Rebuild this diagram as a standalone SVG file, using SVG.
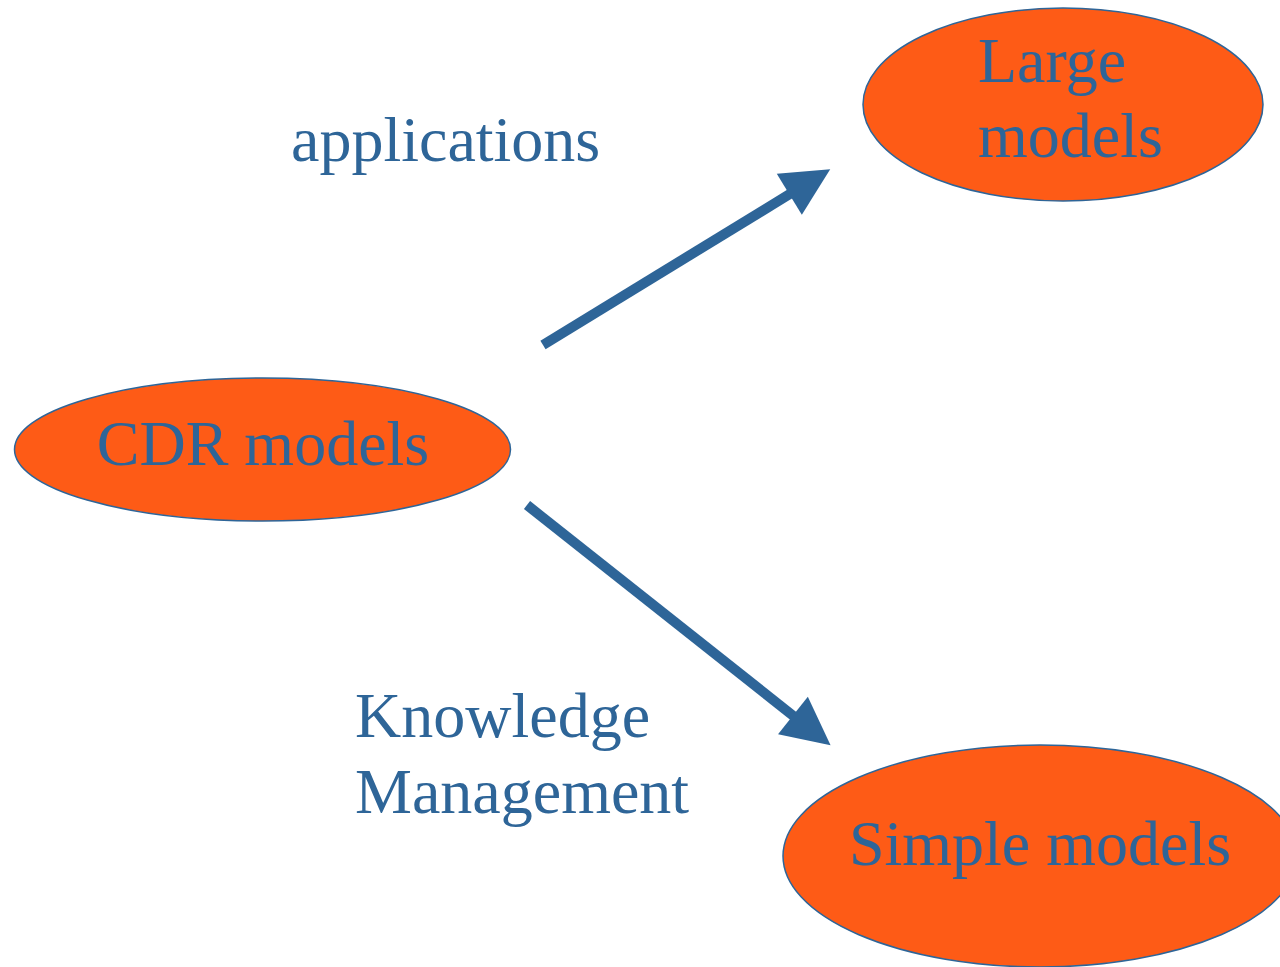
<svg xmlns="http://www.w3.org/2000/svg" width="1280" height="967" viewBox="0 0 1280 967">
  <style>
    .node ellipse { fill: #FE5B16; stroke: #2E6598; stroke-width: 1.5; }
    text { font-family: "Liberation Serif", "Times New Roman", serif; font-size: 64px; fill: #2E6598; }
    .edge { stroke: #2E6598; stroke-width: 10; fill: none; }
  </style>
  <defs>
    <marker id="head" markerUnits="userSpaceOnUse" viewBox="0 0 48 48" refX="2" refY="24" markerWidth="48" markerHeight="48" orient="auto" overflow="visible">
      <path d="M0,0 L48,24 L0,48 z" fill="#2E6598"/>
    </marker>
  </defs>
  <rect width="1280" height="967" fill="#FFFFFF"/>

  <g id="connectors">
    <line class="edge" x1="543" y1="345" x2="791" y2="193.3" marker-end="url(#head)"/>
    <line class="edge" x1="527" y1="505" x2="794.5" y2="716.8" marker-end="url(#head)"/>
  </g>

  <g id="label-applications">
    <text x="291" y="161">applications</text>
  </g>
  <g id="label-knowledge">
    <text x="355" y="737">Knowledge</text>
    <text x="355" y="813">Management</text>
  </g>

  <g id="node-cdr" class="node">
    <ellipse cx="262.5" cy="449.5" rx="248" ry="71.5"/>
    <text x="263" y="465" text-anchor="middle">CDR models</text>
  </g>
  <g id="node-large" class="node">
    <ellipse cx="1063" cy="104.5" rx="200" ry="96.5"/>
    <text x="978" y="82">Large</text>
    <text x="978" y="157">models</text>
  </g>
  <g id="node-simple" class="node">
    <ellipse cx="1040" cy="856" rx="257" ry="111"/>
    <text x="1040" y="865" text-anchor="middle">Simple models</text>
  </g>
</svg>
